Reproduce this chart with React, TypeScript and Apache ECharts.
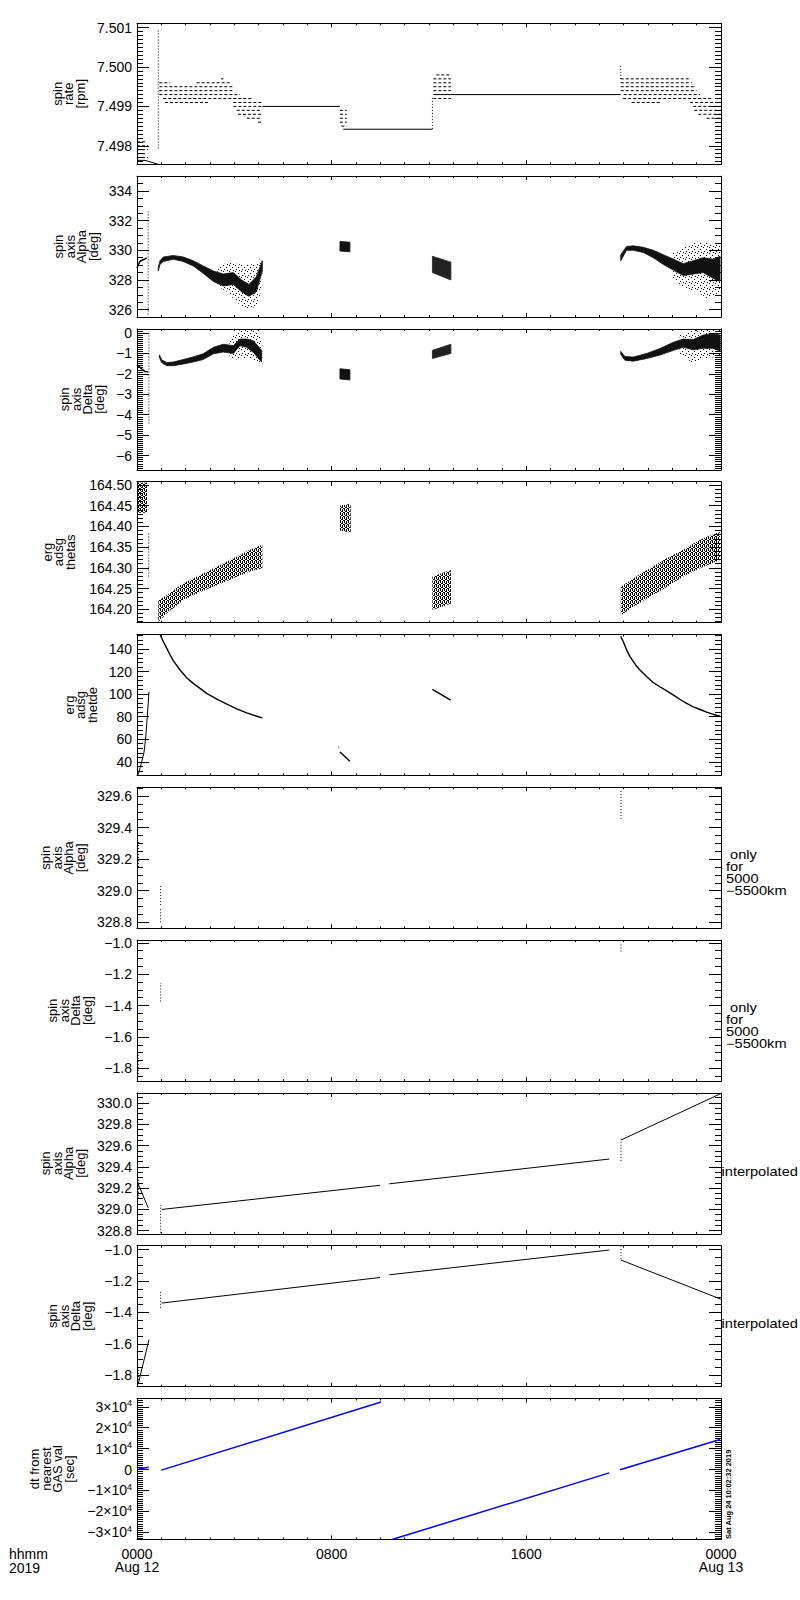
import React, { useEffect, useRef } from 'react';
import * as echarts from 'echarts';

const FONT = '"Liberation Sans", Arial, sans-serif';

// ---------- x axis (hours of 2019-08-12) ----------
const X_TICK_LABELS: Record<number, string> = { 0: '0000\nAug 12', 8: '0800', 16: '1600', 24: '0000\nAug 13' };

// ---------- panel 1 : spin rate [rpm] ----------
const rateFlat = [[5.15, 8.34, 7.499], [8.48, 12.14, 7.49842], [12.18, 19.88, 7.4993]];
const rateSlope = [[0.0, 7.49763], [0.33, 7.49763], [0.875, 7.49753]];
const rateDashes = [
  [0, 0.4, 7.4981], [0, 0.45, 7.498], [0, 0.45, 7.4979], [0, 0.4, 7.4978], [0, 0.45, 7.4977],
  [3.45, 3.55, 7.4997],
  [0.92, 1.36, 7.4996], [2.45, 3.82, 7.4996],
  [0.92, 3.96, 7.4995], [0.92, 3.96, 7.4994], [0.92, 4.23, 7.4993], [1.08, 4.78, 7.4992],
  [1.15, 2.93, 7.4991], [3.96, 5.12, 7.4991], [3.96, 5.12, 7.499], [4.1, 5.12, 7.4989],
  [4.15, 5.12, 7.4988], [4.51, 5.12, 7.4987], [4.97, 5.12, 7.4986],
  [8.34, 8.62, 7.4989], [8.34, 8.62, 7.4988], [8.34, 8.62, 7.4987], [8.34, 8.62, 7.4986], [8.4, 8.62, 7.4985],
  [12.3, 12.9, 7.4998], [12.18, 12.9, 7.4997], [12.18, 12.9, 7.4996], [12.18, 12.9, 7.4995],
  [12.18, 12.9, 7.4994], [12.18, 12.9, 7.4992],
  [19.88, 22.73, 7.4997], [19.88, 22.8, 7.4996], [19.88, 22.93, 7.4995], [19.88, 23.0, 7.4994],
  [20.0, 23.14, 7.4993], [19.98, 23.62, 7.4992], [20.33, 21.56, 7.4991], [22.73, 24, 7.4991],
  [22.86, 24, 7.499], [22.9, 24, 7.4989], [23.07, 24, 7.4988], [23.41, 24, 7.4987],
];
const rateSpikes = [[0.875, 7.49793, 7.50094], [12.14, 7.49843, 7.49924], [19.88, 7.4997, 7.50003]];

// ---------- panel 2 : spin axis Alpha [deg] ----------
const alphaLeft = [[0, 328.81], [0.12, 329.26], [0.4, 329.48]];
const alphaSpikes = [[0.46, 325.68, 332.68]];
const alphaBandAUp = [[0.875, 328.85], [0.945, 329.3], [1.08, 329.55], [1.49, 329.65], [1.9, 329.55], [2.31, 329.3], [2.72, 328.95], [3.14, 328.6], [3.55, 328.4], [3.96, 328.5], [4.3, 328.0], [4.6, 327.7], [4.9, 328.2], [5.15, 329.3]];
const alphaBandALo = [[0.875, 328.6], [0.945, 329.05], [1.08, 329.25], [1.49, 329.4], [1.9, 329.25], [2.31, 328.95], [2.72, 328.45], [3.14, 327.9], [3.55, 327.6], [3.96, 327.7], [4.3, 327.2], [4.6, 326.9], [4.9, 327.2], [5.15, 328.6]];
const alphaCloudAUp = [[3.3, 328.8], [3.7, 329.2], [4.1, 329.1], [4.5, 329.0], [4.9, 329.1], [5.15, 329.6]];
const alphaCloudALo = [[3.3, 327.6], [3.7, 327.2], [4.1, 326.5], [4.5, 326.0], [4.9, 326.2], [5.15, 327.5]];
const alphaBlobBUp = [[8.34, 330.6], [8.75, 330.55]];
const alphaBlobBLo = [[8.34, 329.95], [8.75, 329.9]];
const alphaBlobCUp = [[12.14, 329.6], [12.9, 329.2]];
const alphaBlobCLo = [[12.14, 328.5], [12.9, 328.0]];
const alphaBandDUp = [[19.88, 329.7], [20.12, 330.26], [20.4, 330.3], [20.81, 330.2], [21.22, 330.0], [21.63, 329.7], [22.05, 329.4], [22.45, 329.1], [22.86, 329.3], [23.27, 329.5], [23.69, 329.4], [23.96, 329.6]];
const alphaBandDLo = [[19.88, 329.3], [20.12, 330.0], [20.4, 330.0], [20.81, 329.85], [21.22, 329.5], [21.63, 329.05], [22.05, 328.65], [22.45, 328.3], [22.86, 328.4], [23.27, 328.5], [23.69, 328.1], [23.96, 327.9]];
const alphaCloudDUp = [[22.0, 329.8], [22.45, 330.2], [23.0, 330.6], [23.5, 330.5], [23.99, 330.3]];
const alphaCloudDLo = [[22.0, 328.2], [22.45, 327.5], [23.0, 327.2], [23.5, 326.7], [23.99, 327.2]];

// ---------- panel 3 : spin axis Delta [deg] ----------
const deltaLeft = [[0, -1.56], [0.33, -1.89], [0.45, -1.9]];
const deltaSpikes = [[0.49, -4.43, 0]];
const deltaBandAUp = [[0.92, -1.07], [1.015, -1.31], [1.22, -1.45], [1.49, -1.42], [1.9, -1.3], [2.31, -1.17], [2.72, -1.02], [3.14, -0.7], [3.55, -0.55], [3.96, -0.62], [4.23, -0.3], [4.51, -0.3], [4.78, -0.38], [5.12, -0.85]];
const deltaBandALo = [[0.92, -1.2], [1.015, -1.45], [1.22, -1.6], [1.49, -1.6], [1.9, -1.52], [2.31, -1.42], [2.72, -1.3], [3.14, -1.02], [3.55, -0.93], [3.96, -1.0], [4.23, -0.62], [4.51, -0.7], [4.78, -0.95], [5.12, -1.42]];
const deltaCloudAUp = [[3.8, -0.3], [4.1, 0.1], [4.6, 0.2], [5.0, 0.0], [5.15, -0.4]];
const deltaCloudALo = [[3.8, -1.2], [4.1, -1.3], [4.6, -1.2], [5.0, -1.5], [5.15, -1.5]];
const deltaBlobBUp = [[8.34, -1.75], [8.75, -1.8]];
const deltaBlobBLo = [[8.34, -2.25], [8.75, -2.3]];
const deltaBlobCUp = [[12.14, -0.85], [12.9, -0.55]];
const deltaBlobCLo = [[12.14, -1.25], [12.9, -1.0]];
const deltaBandDUp = [[19.88, -0.9], [20.05, -1.15], [20.4, -1.18], [20.95, -1.0], [21.49, -0.76], [22.05, -0.45], [22.45, -0.3], [22.86, -0.32], [23.27, -0.1], [23.69, -0.02], [23.96, -0.1]];
const deltaBandDLo = [[19.88, -1.05], [20.05, -1.33], [20.4, -1.38], [20.95, -1.25], [21.49, -1.08], [22.05, -0.85], [22.45, -0.7], [22.86, -0.82], [23.27, -0.75], [23.69, -0.75], [23.96, -0.9]];
const deltaCloudDUp = [[22.3, -0.1], [22.8, 0.15], [23.5, 0.2], [23.99, 0.15]];
const deltaCloudDLo = [[22.3, -1.0], [22.8, -1.45], [23.5, -1.2], [23.99, -1.2]];

// ---------- panel 4 : erg adsg thetas ----------
const thetasBlockLUp = [[0, 164.506], [0.41, 164.506]];
const thetasBlockLLo = [[0, 164.433], [0.41, 164.433]];
const thetasSpikes = [[0.48, 164.279, 164.384]];
const thetasBandAUp = [[0.875, 164.222], [1.22, 164.234], [1.9, 164.263], [2.59, 164.283], [3.28, 164.303], [3.96, 164.323], [4.64, 164.344], [5.15, 164.356]];
const thetasBandALo = [[0.875, 164.169], [1.22, 164.19], [1.9, 164.222], [2.59, 164.242], [3.28, 164.258], [3.96, 164.275], [4.64, 164.291], [5.15, 164.299]];
const thetasBlockBUp = [[8.34, 164.45], [8.78, 164.455]];
const thetasBlockBLo = [[8.34, 164.39], [8.78, 164.385]];
const thetasBlockCUp = [[12.14, 164.279], [12.9, 164.295]];
const thetasBlockCLo = [[12.14, 164.198], [12.9, 164.214]];
const thetasBandDUp = [[19.88, 164.254], [20.4, 164.275], [21.08, 164.299], [21.77, 164.323], [22.45, 164.344], [23.14, 164.368], [23.96, 164.388]];
const thetasBandDLo = [[19.88, 164.185], [20.4, 164.206], [21.08, 164.23], [21.77, 164.254], [22.45, 164.279], [23.14, 164.299], [23.96, 164.319]];

// ---------- panel 5 : erg adsg thetde ----------
const thetdeLeft = [[0.05, 28.7], [0.19, 39.6], [0.29, 48.6], [0.36, 62.0], [0.41, 76.9], [0.46, 91.8], [0.49, 102.1]];
const thetdeA = [[0.945, 153.0], [1.08, 146.8], [1.22, 140.9], [1.36, 134.9], [1.49, 129.8], [1.77, 121.5], [2.04, 114.6], [2.31, 109.6], [2.59, 105.2], [2.86, 100.7], [3.28, 95.6], [3.69, 91.2], [4.1, 87.0], [4.51, 83.4], [4.92, 80.4], [5.15, 78.9]];
const thetdeB = [[8.34, 48.6], [8.75, 40.5]];
const thetdeBDot = [[8.28, 53.4], [8.3, 52.6]];
const thetdeC = [[12.14, 104.3], [12.89, 94.7]];
const thetdeD = [[19.88, 151.3], [19.98, 146.8], [20.12, 139.4], [20.26, 133.4], [20.4, 128.9], [20.54, 124.5], [20.67, 121.5], [20.95, 115.5], [21.22, 110.2], [21.49, 106.6], [21.77, 103.0], [22.05, 99.2], [22.32, 95.3], [22.59, 91.8], [22.86, 88.8], [23.14, 86.4], [23.41, 84.0], [23.69, 82.0], [23.96, 80.4]];

// ---------- panel 6 : spin axis Alpha, 5000-5500 km ----------
const alphaKmDots = [[0.06, 329.15, 329.31], [0.97, 328.91, 329.03], [0.97, 328.8, 328.89], [19.89, 329.454, 329.638]];

// ---------- panel 7 : spin axis Delta, 5000-5500 km ----------
const deltaKmDots = [[0.05, -1.854, -1.715], [0.97, -1.374, -1.256], [19.89, -1.056, -1.004]];

// ---------- panel 8 : spin axis Alpha, interpolated ----------
const alphaIntLeft = [[0.04, 329.243], [0.46, 329.015]];
const alphaIntA = [[1.015, 328.999], [9.99, 329.226]];
const alphaIntB = [[10.37, 329.24], [19.41, 329.473]];
const alphaIntC = [[19.89, 329.652], [23.99, 330.088]];
const alphaIntDots = [[0.06, 329.1, 329.3], [0.97, 328.78, 329.04], [19.89, 329.456, 329.659]];

// ---------- panel 9 : spin axis Delta, interpolated ----------
const deltaIntLeft = [[0.05, -1.857], [0.49, -1.574]];
const deltaIntA = [[1.015, -1.34], [9.99, -1.177]];
const deltaIntB = [[10.37, -1.16], [19.41, -1.002]];
const deltaIntC = [[19.89, -1.066], [23.99, -1.315]];
const deltaIntDots = [[0.06, -1.85, -1.75], [0.97, -1.37, -1.26], [19.89, -1.06, -0.98]];

// ---------- panel 10 : dt from nearest GAS val [sec] ----------
const dtA = [[0.06, 300], [0.48, 1100]];
const dtB = [[1.0, -300], [10.03, 32300]];
const dtC = [[10.48, -33500], [19.41, -1600]];
const dtD = [[19.85, -150], [23.96, 14400]];

// ---------- panel axes ----------
const PANELS = [
  { name: 'spin\nrate\n[rpm]', min: 7.49753, max: 7.50111, iv: 0.001, minor: 10, dec: 3, gap: 51 },
  { name: 'spin\naxis\nAlpha\n[deg]', min: 325.5, max: 335, iv: 2, minor: 4, dec: 0, gap: 38 },
  { name: 'spin\naxis\nDelta\n[deg]', min: -6.7, max: 0.2, iv: 1, minor: 10, dec: 0, gap: 32 },
  { name: 'erg\nadsg\nthetas', min: 164.1676, max: 164.508, iv: 0.05, minor: 5, dec: 2, gap: 61 },
  { name: 'erg\nadsg\nthetde', min: 27.8, max: 153, iv: 20, minor: 5, dec: 0, gap: 39 },
  { name: 'spin\naxis\nAlpha\n[deg]', min: 328.762, max: 329.655, iv: 0.2, minor: 4, dec: 1, gap: 51 },
  { name: 'spin\naxis\nDelta\n[deg]', min: -1.881, max: -0.983, iv: 0.2, minor: 4, dec: 1, gap: 44 },
  { name: 'spin\naxis\nAlpha\n[deg]', min: 328.769, max: 330.095, iv: 0.2, minor: 4, dec: 1, gap: 51 },
  { name: 'spin\naxis\nDelta\n[deg]', min: -1.873, max: -0.9745, iv: 0.2, minor: 4, dec: 1, gap: 44 },
  { name: 'dt from\nnearest\nGAS val\n[sec]', min: -33500, max: 34000, iv: 10000, minor: 10, dec: -1, gap: 62 },
];

const TOP0 = 23.3;
const STEP = 152.8;
const PH = 141;

// small pixel textures (style only)
function makePattern(size: number, pixels: number[][], fallback: string): any {
  try {
    const c = document.createElement('canvas');
    c.width = size;
    c.height = size;
    const ctx = c.getContext('2d');
    if (!ctx) return fallback;
    ctx.clearRect(0, 0, size, size);
    ctx.fillStyle = '#000';
    pixels.forEach(([x, y, w, h]) => ctx.fillRect(x, y, w, h));
    return { image: c, repeat: 'repeat', imageWidth: size, imageHeight: size };
  } catch (e) {
    return fallback;
  }
}

function buildOption() {
  const grids: any[] = [];
  const xAxes: any[] = [];
  const yAxes: any[] = [];
  const series: any[] = [];
  const black = '#000';
  const hatch = makePattern(4, [[0, 0, 1, 3], [2, 1, 1, 3], [1, 3, 1, 1], [3, 0, 1, 1]], '#555');
  const cloud = makePattern(6, [[1, 1, 1, 1], [4, 3, 1, 1], [2, 5, 1, 1], [5, 0, 1, 1]], 'rgba(0,0,0,0.14)');

  PANELS.forEach((p, g) => {
    grids.push({ left: 137, width: 584, top: TOP0 + g * STEP, height: PH, outerBoundsMode: 'none', containLabel: false });
    const xBase = {
      gridIndex: g, type: 'value', min: 0, max: 24, interval: 8,
      axisLine: { show: true, onZero: false, lineStyle: { color: black, width: 1 } },
      axisTick: { show: true, inside: true, length: 4, lineStyle: { color: black } },
      minorTick: { show: true, splitNumber: 8, length: 2, lineStyle: { color: black } },
      splitLine: { show: false }, minorSplitLine: { show: false },
    };
    xAxes.push({
      ...xBase, position: 'bottom',
      axisLabel: g === 9 ? {
        show: true, margin: 8, color: black, fontSize: 14, fontFamily: FONT, lineHeight: 13,
        formatter: (v: number) => X_TICK_LABELS[Math.round(v)] ?? '',
      } : { show: false },
    });
    xAxes.push({ ...xBase, position: 'top', axisLabel: { show: false } });

    const fmt = (v: number) => {
      const k = v / p.iv;
      if (Math.abs(k - Math.round(k)) > 1e-6) return '';
      if (p.dec < 0) {
        const n = Math.round(v / 1e4);
        if (n === 0) return '0';
        return (n < 0 ? '\u2212' : '') + Math.abs(n) + '\u00d710{s|4}';
      }
      let s = v.toFixed(p.dec);
      if (Math.abs(v) < 1e-9) s = (0).toFixed(p.dec);
      return s.replace('-', '\u2212');
    };
    const yBase = {
      gridIndex: g, type: 'value', min: p.min, max: p.max, minInterval: p.iv, maxInterval: p.iv,
      axisLine: { show: true, onZero: false, lineStyle: { color: black, width: 1 } },
      axisTick: { show: true, inside: true, length: 12, lineStyle: { color: black } },
      minorTick: { show: true, splitNumber: p.minor, length: 6, lineStyle: { color: black } },
      splitLine: { show: false }, minorSplitLine: { show: false },
    };
    yAxes.push({
      ...yBase, position: 'left',
      axisLabel: {
        show: true, margin: 5, color: black, fontSize: 14, fontFamily: FONT, formatter: fmt,
        rich: { s: { fontSize: 9, fontFamily: FONT, color: black, verticalAlign: 'bottom', padding: [0, 0, 7, 0] } },
      },
      name: p.name, nameLocation: 'middle', nameRotate: 90, nameGap: p.gap, nameMoveOverlap: false,
      nameTextStyle: { fontSize: 13, lineHeight: 11.5, fontFamily: FONT, color: black },
    });
    yAxes.push({ ...yBase, position: 'right', axisLabel: { show: false } });
  });

  const ax = (g: number) => ({ xAxisIndex: 2 * g, yAxisIndex: 2 * g });
  const addLine = (g: number, pts: number[][], color = black, width = 1) =>
    series.push({
      type: 'line', ...ax(g), data: pts, symbol: 'none', showSymbol: false, silent: true,
      lineStyle: { color, width }, clip: true, z: 3,
    });
  const addH = (g: number, segs: number[][], dash: number[] | null, width = 1) =>
    series.push({
      type: 'custom', ...ax(g), data: segs, encode: { x: [0, 1], y: 2 }, silent: true, z: 3,
      renderItem: (_params: any, api: any) => {
        const a = api.coord([api.value(0), api.value(2)]);
        const b = api.coord([api.value(1), api.value(2)]);
        return {
          type: 'line', shape: { x1: a[0], y1: a[1], x2: b[0], y2: b[1] },
          style: { stroke: black, lineWidth: width, lineDash: dash || undefined },
        };
      },
    });
  const addV = (g: number, segs: number[][]) =>
    series.push({
      type: 'custom', ...ax(g), data: segs, encode: { x: 0, y: [1, 2] }, silent: true, z: 3,
      renderItem: (_params: any, api: any) => {
        const a = api.coord([api.value(0), api.value(1)]);
        const b = api.coord([api.value(0), api.value(2)]);
        return {
          type: 'line', shape: { x1: a[0], y1: a[1], x2: b[0], y2: b[1] },
          style: { stroke: black, lineWidth: 1, lineDash: [1, 2] },
        };
      },
    });
  const addBand = (g: number, up: number[][], lo: number[][], fill: any) =>
    series.push({
      type: 'custom', ...ax(g), data: [up[0]], encode: { x: 0, y: 1 }, silent: true, z: 2,
      renderItem: (_params: any, api: any) => {
        const pts = up.map((q) => api.coord(q)).concat(lo.slice().reverse().map((q) => api.coord(q)));
        return {
          type: 'polygon', shape: { points: pts },
          style: { fill, stroke: typeof fill === 'string' ? fill : 'none', lineWidth: 0.8 },
        };
      },
    });

  // panel 1
  addH(0, rateFlat, null);
  addLine(0, rateSlope);
  addH(0, rateDashes, [3, 2]);
  addV(0, rateSpikes);
  // panel 2
  addLine(1, alphaLeft, black, 1.5);
  addV(1, alphaSpikes);
  addBand(1, alphaCloudAUp, alphaCloudALo, cloud);
  addBand(1, alphaBandAUp, alphaBandALo, '#111');
  addBand(1, alphaBlobBUp, alphaBlobBLo, '#111');
  addBand(1, alphaBlobCUp, alphaBlobCLo, '#222');
  addBand(1, alphaCloudDUp, alphaCloudDLo, cloud);
  addBand(1, alphaBandDUp, alphaBandDLo, '#111');
  // panel 3
  addLine(2, deltaLeft, black, 1.5);
  addV(2, deltaSpikes);
  addBand(2, deltaCloudAUp, deltaCloudALo, cloud);
  addBand(2, deltaBandAUp, deltaBandALo, '#111');
  addBand(2, deltaBlobBUp, deltaBlobBLo, '#111');
  addBand(2, deltaBlobCUp, deltaBlobCLo, '#222');
  addBand(2, deltaCloudDUp, deltaCloudDLo, cloud);
  addBand(2, deltaBandDUp, deltaBandDLo, '#111');
  // panel 4
  addBand(3, thetasBlockLUp, thetasBlockLLo, hatch);
  addV(3, thetasSpikes);
  addBand(3, thetasBandAUp, thetasBandALo, hatch);
  addBand(3, thetasBlockBUp, thetasBlockBLo, hatch);
  addBand(3, thetasBlockCUp, thetasBlockCLo, hatch);
  addBand(3, thetasBandDUp, thetasBandDLo, hatch);
  // panel 5
  addLine(4, thetdeLeft);
  addLine(4, thetdeA, black, 1.4);
  addLine(4, thetdeB, black, 1.4);
  addLine(4, thetdeBDot);
  addLine(4, thetdeC, black, 1.4);
  addLine(4, thetdeD, black, 1.4);
  // panel 6, 7
  addV(5, alphaKmDots);
  addV(6, deltaKmDots);
  // panel 8
  addLine(7, alphaIntLeft);
  addLine(7, alphaIntA);
  addLine(7, alphaIntB);
  addLine(7, alphaIntC);
  addV(7, alphaIntDots);
  // panel 9
  addLine(8, deltaIntLeft);
  addLine(8, deltaIntA);
  addLine(8, deltaIntB);
  addLine(8, deltaIntC);
  addV(8, deltaIntDots);
  // panel 10
  [dtA, dtB, dtC, dtD].forEach((d) => addLine(9, d, '#0000ff', 1.5));

  const txt = (text: string, x: number, y: number, extra: any = {}, sx = 1) => ({
    type: 'text', x, y, scaleX: sx, silent: true,
    style: { text, fontSize: 12, fontFamily: FONT, fill: black, lineHeight: 12, verticalAlign: 'top', align: 'left', ...extra },
  });

  return {
    animation: false,
    backgroundColor: '#fff',
    grid: grids,
    xAxis: xAxes,
    yAxis: yAxes,
    series,
    graphic: [
      txt(' only\nfor\n5000\n\u22125500km', 726, 849, {}, 1.22),
      txt(' only\nfor\n5000\n\u22125500km', 726, 1002, {}, 1.22),
      txt('interpolated', 721.5, 1172, { verticalAlign: 'middle' }, 1.22),
      txt('interpolated', 721.5, 1324, { verticalAlign: 'middle' }, 1.22),
      txt('hhmm\n2019', 9, 1547, { fontSize: 14, lineHeight: 14 }),
      {
        type: 'text', x: 728, y: 1539, rotation: Math.PI / 2, silent: true,
        style: { text: 'Sat Aug 24 10:02:32 2019', fontSize: 7.5, fontWeight: 'bold', fontFamily: FONT, fill: black, align: 'left', verticalAlign: 'middle' },
      },
    ],
  };
}

export default function App() {
  const ref = useRef<HTMLDivElement>(null);
  useEffect(() => {
    if (!ref.current) return;
    const chart = echarts.init(ref.current, undefined, { renderer: 'svg', width: 800, height: 1600 });
    chart.setOption(buildOption() as any);
    return () => chart.dispose();
  }, []);
  return (
    <div
      ref={ref}
      style={{ position: 'absolute', left: 0, top: 0, width: 800, height: 1600, background: '#fff' }}
    />
  );
}
